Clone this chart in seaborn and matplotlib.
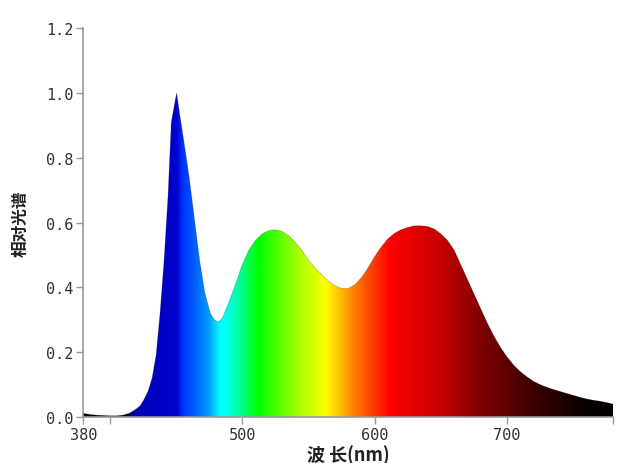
import numpy as np
import matplotlib.pyplot as plt
import seaborn as sns
from matplotlib.colors import LinearSegmentedColormap

# spectrum (nm, relative intensity)
wavelength = [380, 385, 390, 395, 400, 405, 410, 415, 420, 423, 426, 429, 432, 435,
              438, 441, 444, 446.5, 450.5, 453, 456, 460, 464, 468, 472, 476, 479,
              482, 485, 490, 495, 500, 505, 510, 515, 520, 525, 530, 535, 540, 545,
              550, 555, 560, 565, 570, 575, 580, 585, 590, 595, 600, 605, 610, 615,
              620, 625, 630, 635, 640, 645, 650, 655, 660, 665, 670, 675, 680, 685,
              690, 695, 700, 705, 710, 715, 720, 725, 730, 735, 740, 745, 750, 755,
              760, 765, 770, 775, 780]
intensity = [0.012, 0.008, 0.006, 0.005, 0.004, 0.004, 0.006, 0.012, 0.025, 0.035,
             0.055, 0.08, 0.12, 0.19, 0.32, 0.48, 0.68, 0.91, 1.0, 0.93, 0.85, 0.74,
             0.61, 0.48, 0.38, 0.32, 0.30, 0.293, 0.305, 0.355, 0.41, 0.47, 0.515,
             0.545, 0.565, 0.575, 0.578, 0.573, 0.56, 0.54, 0.515, 0.485, 0.46, 0.44,
             0.42, 0.405, 0.397, 0.397, 0.408, 0.43, 0.46, 0.495, 0.525, 0.55, 0.567,
             0.578, 0.585, 0.59, 0.59, 0.588, 0.58, 0.565, 0.545, 0.515, 0.47, 0.425,
             0.38, 0.335, 0.29, 0.25, 0.215, 0.185, 0.16, 0.14, 0.124, 0.11, 0.10,
             0.092, 0.085, 0.079, 0.073, 0.067, 0.061, 0.056, 0.052, 0.049, 0.045, 0.04]

# colour of the gradient at given wavelengths
color_nm = [380, 412, 420, 450, 455, 465, 475, 483, 490, 500, 512, 540, 563, 578,
            595, 612, 650, 685, 710, 735, 760, 780]
color_rgb = [(0, 0, 0), (0, 0, 0.35), (0, 0, 0.72), (0, 0, 0.8), (0, 0.2, 1),
             (0, 0.4, 1), (0, 0.62, 1), (0, 1, 1), (0, 1, 0.9), (0, 1, 0.5),
             (0, 1, 0), (0.6, 1, 0), (1, 1, 0), (1, 0.65, 0), (1, 0.3, 0),
             (1, 0, 0), (0.78, 0, 0), (0.47, 0, 0), (0.3, 0, 0), (0.15, 0, 0),
             (0.03, 0, 0), (0, 0, 0)]

x_ticks = [380, 400, 500, 600, 700, 780]
x_labels = ['380', '', '500', '600', '700', '']
y_ticks = [0.0, 0.2, 0.4, 0.6, 0.8, 1.0, 1.2]

sns.set_style("ticks")
plt.rcParams['font.family'] = ['Noto Sans CJK SC', 'DejaVu Sans']

fig = plt.figure(figsize=(6.4, 4.64), dpi=100)
ax = fig.add_axes([0.130, 0.099, 0.828, 0.8385])

lo, hi = color_nm[0], color_nm[-1]
stops = [((w - lo) / (hi - lo), c) for w, c in zip(color_nm, color_rgb)]
cmap = LinearSegmentedColormap.from_list('spectrum', stops)

# filled area painted with the spectrum gradient
poly = ax.fill_between(wavelength, intensity, color='none', lw=0)
grad = np.linspace(0, 1, 800).reshape(1, -1)
img = ax.imshow(grad, cmap=cmap, aspect='auto', extent=[380, 780, 0, 1.2],
                origin='lower', interpolation='bilinear', zorder=1)
img.set_clip_path(poly.get_paths()[0], transform=ax.transData)

sns.lineplot(x=wavelength, y=intensity, ax=ax, color='#1a0000', lw=0.5, alpha=0.25)

ax.set_xlim(380, 780)
ax.set_ylim(0, 1.2)
ax.set_xticks(x_ticks)
ax.set_xticklabels(x_labels)
ax.set_yticks(y_ticks)
ax.set_yticklabels([f'{v:.1f}' for v in y_ticks])
for lab in ax.get_xticklabels() + ax.get_yticklabels():
    lab.set_family('DejaVu Sans Mono')
    lab.set_fontsize(11)
    lab.set_color('#333333')

ax.tick_params(direction='out', length=5, width=1, color='#999999', pad=2)
sns.despine(ax=ax)
for s in ['left', 'bottom']:
    ax.spines[s].set_color('#999999')
    ax.spines[s].set_linewidth(1.2)

ax.set_xlabel('波 长(nm)', fontsize=13, fontweight='bold', color='#222222', labelpad=2)
ax.set_ylabel('相对光谱', fontsize=12, fontweight='bold', color='#222222', labelpad=12)

fig.savefig('out.png', dpi=100)
